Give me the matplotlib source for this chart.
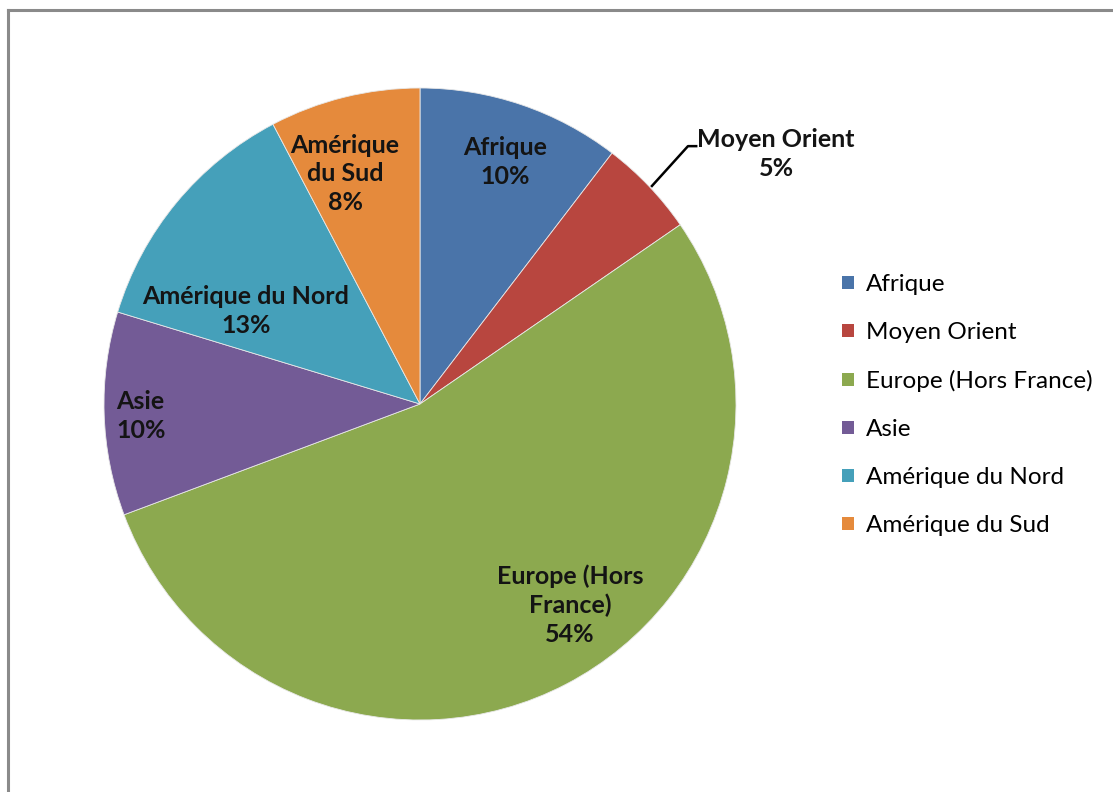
import matplotlib.pyplot as plt
from matplotlib.lines import Line2D
from matplotlib.patches import Patch

# data
regions = ["Afrique", "Moyen Orient", "Europe (Hors France)", "Asie",
           "Amérique du Nord", "Amérique du Sud"]
shares = [10.4, 5.0, 53.9, 10.4, 12.6, 7.7]
slice_labels = ["Afrique\n10%", "Moyen Orient\n5%", "Europe (Hors\nFrance)\n54%",
                "Asie\n10%", "Amérique du Nord\n13%", "Amérique\ndu Sud\n8%"]
colors = ["#4A74A9", "#B8463F", "#8CA94F", "#735B96", "#45A0BA", "#E58A3C"]

plt.rcParams['font.family'] = ['Lato', 'DejaVu Sans']

W, H = 1113, 792
fig = plt.figure(figsize=(W / 100, H / 100), dpi=100)

# chart border (top + left visible)
fig.add_artist(Line2D([8 / W, 8 / W], [0, 1 - 10 / H], color="#8a8a8a", lw=2.2,
                      transform=fig.transFigure))
fig.add_artist(Line2D([8 / W, 1], [1 - 10 / H, 1 - 10 / H], color="#8a8a8a", lw=2.2,
                      transform=fig.transFigure))

cx, cy, r = 420, 404, 316
ax = fig.add_axes([(cx - r) / W, (H - cy - r) / H, 2 * r / W, 2 * r / H])
wedges, _ = ax.pie(shares, colors=colors, startangle=90, counterclock=False,
                   radius=1, wedgeprops=dict(edgecolor="#e8e8e8", linewidth=0.6))
ax.set_xlim(-1, 1)
ax.set_ylim(-1, 1)
ax.set_aspect("equal")
ax.axis("off")

# label positions in data coords
label_pos = [(0.269, 0.766), (1.127, 0.791), (0.475, -0.636), (-0.962, -0.038),
             (-0.551, 0.294), (-0.237, 0.728)]
for i, (lab, (x, y)) in enumerate(zip(slice_labels, label_pos)):
    ha = "left" if i == 3 else "center"
    ax.text(x, y, lab, ha=ha, va="center", fontsize=18, fontweight="bold",
            color="#141414", linespacing=1.3, clip_on=False)

# leader line for Moyen Orient
ax.plot([0.734, 0.848, 0.874], [0.690, 0.816, 0.816], color="black", lw=1.8,
        clip_on=False)

handles = [Patch(facecolor=c, edgecolor="none") for c in colors]
fig.legend(handles, regions, loc="upper left",
           bbox_to_anchor=(830 / W, 1 - 262 / H), frameon=False, fontsize=17.5,
           handlelength=0.47, handleheight=0.47, handletextpad=0.5,
           labelspacing=1.11, borderpad=0)

fig.savefig("out.png", dpi=100, facecolor="white")
